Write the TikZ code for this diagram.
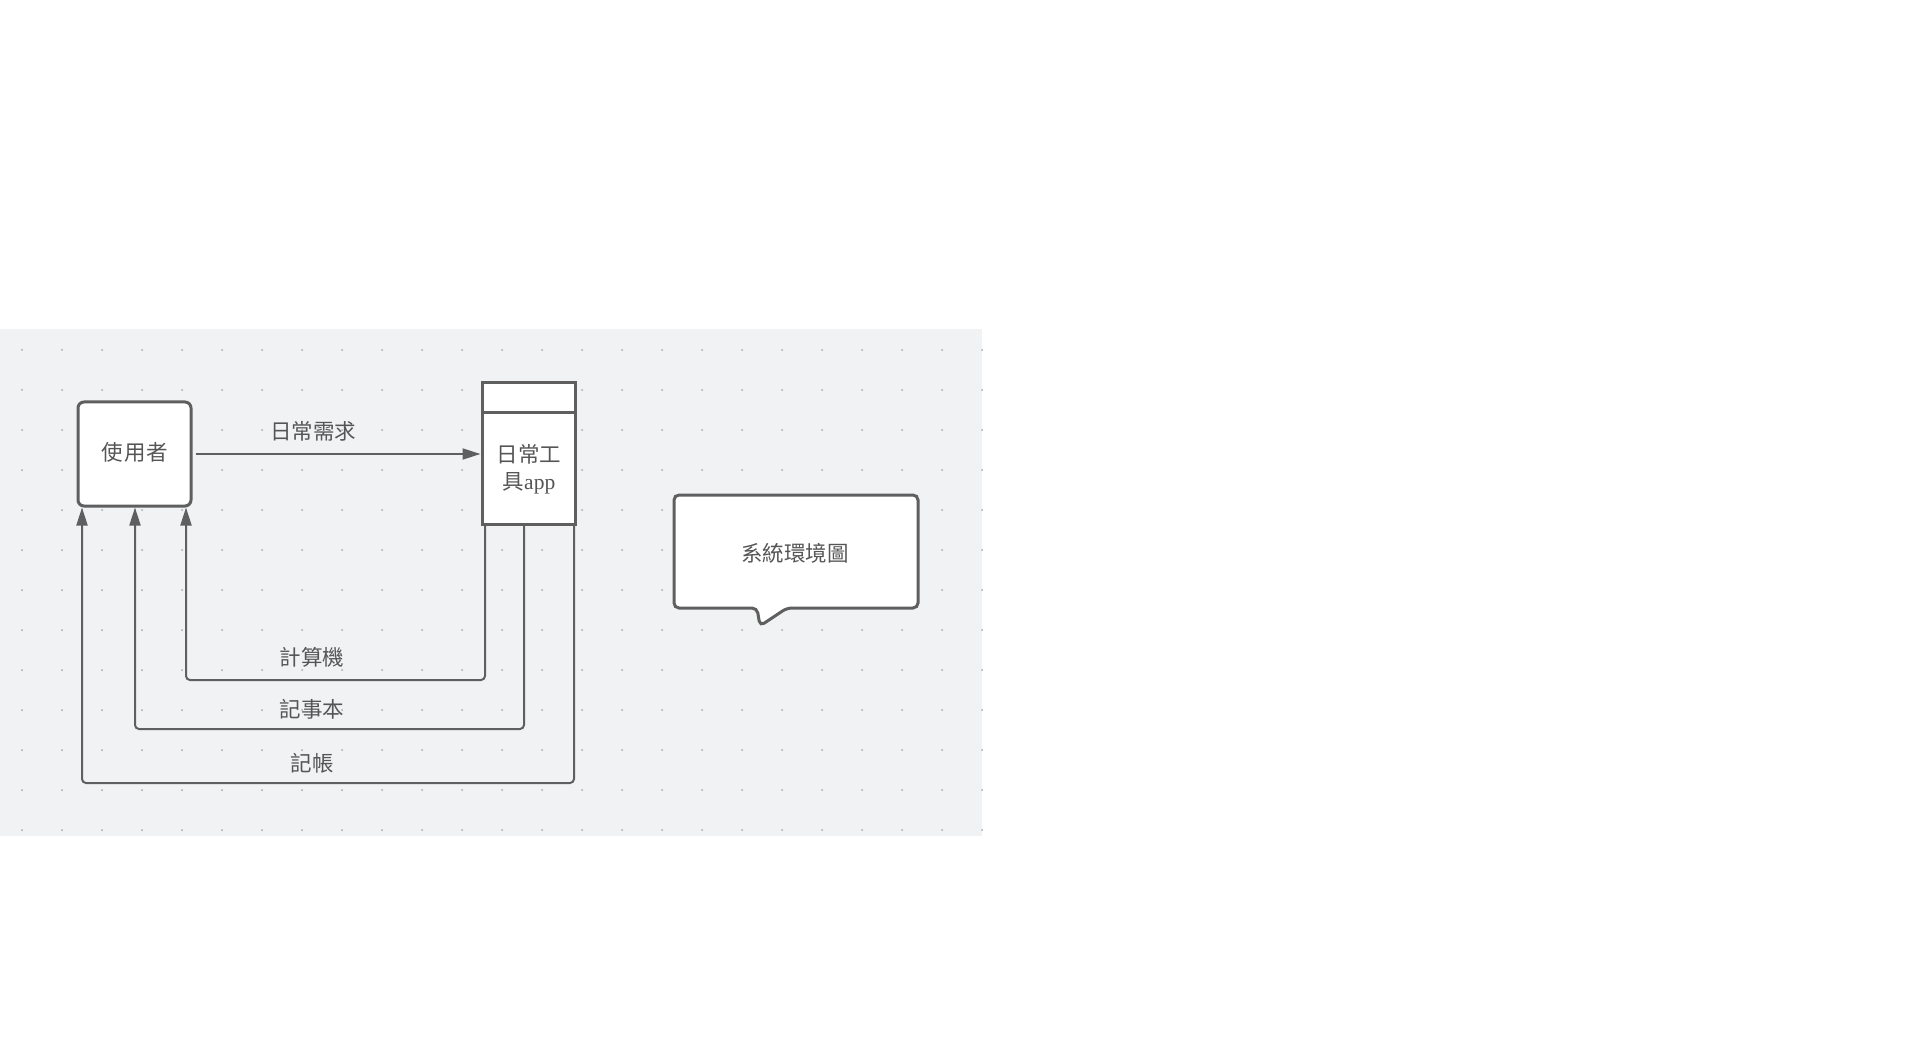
\documentclass[tikz,border=0pt]{standalone}
\usepackage{fontspec}
\setmainfont{Liberation Serif}
\newfontfamily\cjk{Noto Sans CJK TC}
\usetikzlibrary{arrows.meta}
\definecolor{bgc}{RGB}{241,242,244}
\definecolor{linec}{RGB}{95,95,95}
\definecolor{txtc}{RGB}{85,85,85}
\definecolor{dotc}{RGB}{165,168,178}
\begin{document}
\begin{tikzpicture}[x=1pt,y=-1pt,
  box/.style={draw=linec, line width=3pt, fill=white, inner sep=0pt},
  conn/.style={draw=linec, line width=2pt, rounded corners=4pt},
  tipend/.style={-{Triangle[length=18pt,width=11pt]}},
  lbl/.style={text=txtc, font=\cjk\fontsize{21.5}{27}\selectfont, inner sep=0pt}]
\useasboundingbox (0,0) rectangle (1920,1040);
\fill[bgc] (0,329) rectangle (982,836);
\foreach \i in {0,...,24} \foreach \j in {0,...,12} \fill[dotc] (22+40*\i, 350+40*\j) circle (1pt);

% nodes
\node[box, rounded corners=6pt, minimum width=113pt, minimum height=104pt] (user) at (134.5,454) {};
\node[lbl] (usertxt) at (135,452) {使\hspace{1pt}用\hspace{1pt}者};

\node[box, minimum width=93pt, minimum height=141pt] (app) at (528.5,453.5) {};
\draw[linec, line width=3pt] ([yshift=-31pt]app.north west) -- ([yshift=-31pt]app.north east);
\node[lbl, align=center] (apptxt) at (529,469) {日常工\\具{\rmfamily app}};

% callout
\draw[linec, line width=3pt, fill=white, rounded corners=5pt]
  (674,495) -- (918,495) -- (918,608) -- (787,608) -- (760,626) -- (757,608) -- (674,608) -- cycle;
\node[lbl] (calltxt) at (795,553) {系統環境圖};

% connectors
\draw[conn, tipend] ([xshift=3pt]user.east) -- (app.west |- user.east);
\node[lbl] (l0) at (313,431) {日常需求};

\coordinate (a1) at (485,680); \coordinate (b1) at (186,680);
\coordinate (a2) at (524,729); \coordinate (b2) at (135,729);
\coordinate (a3) at (574,783); \coordinate (b3) at (82,783);
\draw[conn, tipend] (app.south -| a1) -- (a1) -- (b1) -- (user.south -| b1);
\draw[conn, tipend] (app.south -| a2) -- (a2) -- (b2) -- (user.south -| b2);
\draw[conn, tipend] (app.south -| a3) -- (a3) -- (b3) -- (user.south -| b3);
\node[lbl] (l1) at (312,657) {計算機};
\node[lbl] (l2) at (312,709) {記事本};
\node[lbl] (l3) at (312,763) {記帳};
\end{tikzpicture}
\end{document}
